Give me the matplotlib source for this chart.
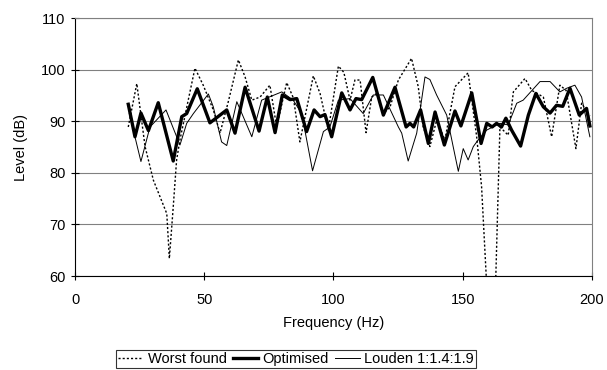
import matplotlib
matplotlib.use('Agg')
import matplotlib.pyplot as plt

plt.rcParams['font.family'] = ['Liberation Sans', 'DejaVu Sans']

# frequency (Hz) / level (dB)
worst_f = [20.6, 23.9, 27.1, 30.3, 35.5, 36.5, 38.0, 39.3, 40.6, 43.8, 46.4, 49.6,
           53.5, 56.1, 59.3, 63.2, 65.8, 68.4, 71.6, 75.4, 78.0, 81.9, 84.5, 87.0,
           92.2, 94.8, 98.0, 101.9, 104.0, 106.4, 108.3, 110.3, 112.6, 114.8, 116.7,
           119.3, 121.9, 125.1, 130.2, 132.8, 134.7, 137.3, 139.9, 143.1, 147.0,
           152.1, 155.4, 157.3, 159.3, 161.0, 162.7, 164.4, 167.6, 169.6, 174.1,
           176.7, 181.2, 184.4, 187.6, 190.0, 193.8, 196.0, 199.2]
worst_db = [88.9, 97.3, 85.1, 78.6, 72.1, 63.4, 73.4, 82.5, 86.4, 94.1, 100.3, 97.0,
            92.2, 87.7, 93.8, 101.9, 98.6, 94.1, 94.7, 97.0, 88.9, 97.5, 94.5, 86.0,
            98.8, 95.4, 88.3, 100.7, 99.5, 94.1, 98.0, 98.0, 87.8, 94.7, 95.4,
            91.5, 92.8, 98.0, 102.2, 96.7, 88.9, 85.1, 90.2, 86.4, 96.7,
            99.4, 87.0, 77.3, 58.0, 55.0, 58.0, 88.9, 87.3, 95.7, 98.3,
            96.0, 94.7, 87.0, 97.0, 96.0, 84.7, 93.5, 91.0]

opt_f = [20.6, 23.2, 25.5, 28.4, 32.2, 38.0, 41.3, 43.2, 47.3, 52.2, 58.7, 61.9,
         65.8, 71.2, 74.4, 77.4, 80.2, 83.2, 85.8, 89.6, 92.5, 94.8, 96.7, 99.3,
         103.2, 106.4, 108.7, 110.9, 115.2, 119.3, 123.8, 128.1, 129.6, 131.0,
         133.7, 136.7, 139.3, 142.9, 147.0, 149.3, 153.5, 157.1, 159.3, 161.4,
         163.1, 165.0, 166.7, 168.9, 172.4, 175.4, 178.3, 181.2, 183.8, 186.3,
         188.7, 191.5, 195.1, 197.9, 199.2]
opt_db = [93.3, 87.0, 91.6, 88.2, 93.6, 82.3, 90.9, 91.5, 96.3, 89.7, 92.2, 87.7,
          96.6, 88.1, 94.7, 87.8, 95.1, 94.2, 94.4, 88.0, 92.2, 90.9, 91.3, 87.0,
          95.5, 92.2, 94.4, 94.2, 98.5, 91.2, 96.6, 88.9, 89.6, 88.9,
          92.2, 85.7, 91.8, 85.4, 92.0, 89.1, 95.5, 85.7, 89.6, 88.9,
          89.6, 88.9, 90.6, 88.3, 85.2, 91.2, 95.4, 92.8, 91.6, 93.1,
          92.9, 96.4, 91.2, 92.5, 89.1]

louden_f = [21.0, 25.5, 29.0, 35.2, 40.6, 43.2, 45.8, 51.6, 53.5, 56.7, 58.7, 62.6,
            68.4, 72.2, 80.0, 84.4, 87.7, 91.9, 96.1, 98.6, 101.9, 106.4, 111.5,
            115.4, 119.3, 125.1, 126.4, 128.9, 132.2, 135.4, 137.3, 139.9, 143.8,
            146.3, 148.3, 150.2, 152.1, 154.1, 156.0, 159.3, 164.4, 167.6, 170.9,
            173.4, 179.9, 183.8, 187.6, 190.2, 193.4, 196.0, 199.2]
louden_db = [91.5, 82.2, 88.9, 92.2, 85.4, 89.6, 91.5, 95.3, 92.8, 86.0, 85.3, 93.8,
             87.0, 94.1, 95.7, 94.1, 91.5, 80.4, 88.0, 88.9, 94.1, 94.4, 91.5,
             95.1, 95.1, 88.9, 87.7, 82.3, 87.7, 98.6, 98.1, 95.1, 91.2,
             85.1, 80.3, 84.7, 82.5, 85.1, 86.4, 88.3, 89.6, 89.3, 93.5,
             94.1, 97.7, 97.7, 95.7, 96.4, 97.0, 94.7, 87.0]

fig = plt.figure(figsize=(6.07, 3.70), dpi=100)
ax = fig.add_axes([0.1236, 0.254, 0.8516, 0.697])

ax.plot(worst_f, worst_db, color='black', lw=1.0, ls=(0, (1.5, 1.5)), label='Worst found')
ax.plot(opt_f, opt_db, color='black', lw=2.4, solid_joinstyle='round', label='Optimised')
ax.plot(louden_f, louden_db, color='black', lw=0.7, solid_joinstyle='round',
        label='Louden 1:1.4:1.9')

ax.set_xlim(0, 200)
ax.set_ylim(60, 110)
ax.set_xticks([0, 50, 100, 150, 200])
ax.set_yticks([60, 70, 80, 90, 100, 110])
ax.yaxis.grid(True, color='#808080', lw=0.8)
ax.set_axisbelow(True)
ax.tick_params(direction='inout', length=6, labelsize=10.5, colors='black')
ax.tick_params(axis='x', pad=9)
ax.tick_params(axis='y', pad=4)
for s in ax.spines.values():
    s.set_color('black')
    s.set_linewidth(0.8)
ax.spines['right'].set_color('#808080')
ax.spines['top'].set_color('#808080')

ax.set_xlabel('Frequency (Hz)', fontsize=10.5, labelpad=7)
ax.set_ylabel('Level (dB)', fontsize=10.5, labelpad=9)

leg = fig.legend(loc='lower center', bbox_to_anchor=(0.488, 0.005), ncol=3, fontsize=10.5,
                 frameon=True, fancybox=False, edgecolor='black', handlelength=1.7,
                 handletextpad=0.3, columnspacing=0.45, borderpad=0.15, borderaxespad=0)
leg.get_frame().set_linewidth(0.8)

fig.savefig('out.png', dpi=100)
